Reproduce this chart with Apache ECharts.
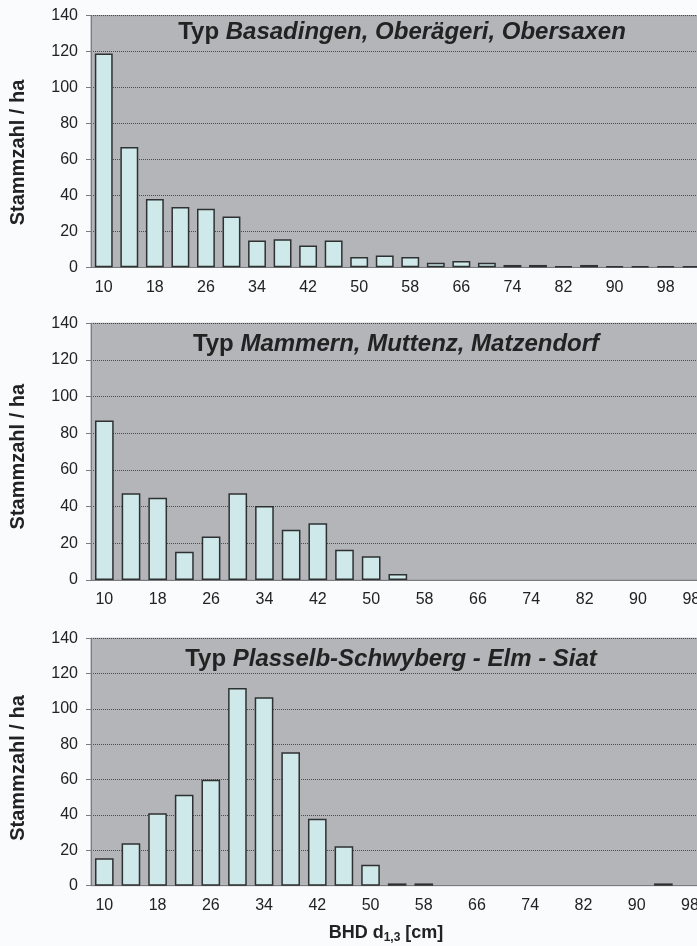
<!DOCTYPE html>
<html><head><meta charset="utf-8">
<script src="https://cdn.jsdelivr.net/npm/echarts/dist/echarts.min.js"></script>
<style>
html,body{margin:0;padding:0;background:#fafbfd;overflow:hidden;width:697px;height:946px}
#c{width:720px;height:946px}
</style></head>
<body><div id="c"></div>
<script>
// ---- data ----
const categoriesA = ['10','14','18','22','26','30','34','38','42','46','50','54','58','62','66','70','74','78','82','86','90','94','98','102'];
const categoriesBC = ['10','14','18','22','26','30','34','38','42','46','50','54','58','62','66','70','74','78','82','86','90','94','98'];
const valuesA = [119, 67, 38, 33.5, 32.6, 28.3, 14.9, 15.6, 12.1, 14.9, 5.8, 6.5, 5.8, 2.6, 3.5, 2.6, 1.3, 1.3, 0.5, 1.3, 0.5, 0.5, 0.5, 0.5];
const valuesB = [87, 47.3, 44.8, 15.4, 23.7, 47.3, 40.4, 27.4, 31, 16.5, 12.9, 3.3, 0, 0, 0, 0, 0, 0, 0, 0, 0, 0, 0];
const valuesC = [15.5, 24, 41, 51.5, 60, 111.9, 106.6, 75.5, 37.9, 22.3, 11.9, 1.3, 1.3, 0, 0, 0, 0, 0, 0, 0, 0, 1.3, 0];
const typPrefix = 'Typ ';
const titleNames = ['Basadingen, Oberägeri, Obersaxen', 'Mammern, Muttenz, Matzendorf', 'Plasselb-Schwyberg - Elm - Siat'];
const yAxisName = 'Stammzahl / ha';
const xAxisName = ['BHD d', '1,3', ' [cm]'];
const yMin = 0, yMax = 140, yStep = 20;

// ---- layout ----
const FONT = '"Liberation Sans", Arial, sans-serif';
const grids = [
  {left: 90,   top: 15.7,  width: 614, height: 251.6},
  {left: 90.7, top: 323.3, width: 614, height: 256.7},
  {left: 89.3, top: 638.3, width: 614, height: 247.4}
];
const namePadRight = [22, 10, 12];
const cats = [categoriesA, categoriesBC, categoriesBC];
const vals = [valuesA, valuesB, valuesC];
const titlePos = [[402, 32], [396, 344], [391, 659]];

const chart = echarts.init(document.getElementById('c'), null, {renderer: 'canvas'});
const option = {
  backgroundColor: '#fafbfd',
  animation: false,
  grid: grids.map(g => Object.assign({show: true, backgroundColor: '#b4b5b9', borderColor: '#9a9b9e', borderWidth: 1}, g)),
  xAxis: grids.map((g, i) => ({
    type: 'category', gridIndex: i, data: cats[i],
    axisLine: {lineStyle: {color: '#7a7b7e', width: 1}},
    axisTick: {interval: 0, length: 5, lineStyle: {color: '#7a7b7e'}},
    axisLabel: {interval: 1, fontSize: 16, color: '#222', fontFamily: FONT, margin: 12}
  })),
  yAxis: grids.map((g, i) => ({
    type: 'value', gridIndex: i, min: yMin, max: yMax, interval: yStep,
    axisLine: {show: true, lineStyle: {color: '#7a7b7e'}},
    axisTick: {show: true, length: 5, lineStyle: {color: '#7a7b7e'}},
    axisLabel: {fontSize: 16, color: '#222', fontFamily: FONT, margin: 13},
    splitLine: {show: true, lineStyle: {type: 'dotted', color: '#4a4b4e', width: 1}},
    name: yAxisName, nameLocation: 'middle', nameGap: 63,
    nameTextStyle: {fontSize: 20, fontWeight: 'bold', color: '#222', fontFamily: FONT, padding: [0, namePadRight[i], 0, 0]}
  })),
  series: grids.map((g, i) => ({
    type: 'bar', xAxisIndex: i, yAxisIndex: i,
    data: vals[i].map(v => v === 0 ? {value: v, itemStyle: {borderWidth: 0}} : v),
    barCategoryGap: '30%',
    itemStyle: {color: '#cfe9ea', borderColor: '#2e3132', borderWidth: 1.5}
  })),
  graphic: titlePos.map((p, i) => ({
    type: 'text', x: p[0], y: p[1], z: 100,
    style: {
      text: '{a|' + typPrefix + '}{b|' + titleNames[i] + '}',
      align: 'center', verticalAlign: 'middle', fill: '#222',
      rich: {
        a: {fontSize: 24, fontWeight: 'bold', fontFamily: FONT, fill: '#222'},
        b: {fontSize: 24, fontWeight: 'bold', fontStyle: 'italic', fontFamily: FONT, fill: '#222'}
      }
    }
  })).concat([{
    type: 'text', x: 386, y: 933, z: 100,
    style: {
      text: '{m|' + xAxisName[0] + '}{s|' + xAxisName[1] + '}{m|' + xAxisName[2] + '}',
      align: 'center', verticalAlign: 'middle', fill: '#222',
      rich: {
        m: {fontSize: 18, fontWeight: 'bold', fontFamily: FONT, fill: '#222', lineHeight: 22},
        s: {fontSize: 12, fontWeight: 'bold', fontFamily: FONT, fill: '#222', padding: [10, 0, 0, 0]}
      }
    }
  }])
};
chart.setOption(option);
</script>
</body></html>
